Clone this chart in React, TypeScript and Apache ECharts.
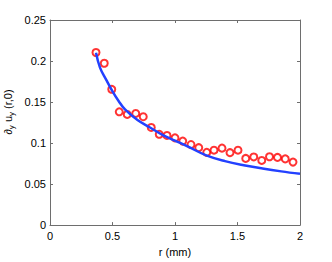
import React, { useEffect, useRef } from "react";
import * as echarts from "echarts";

// Measured points (red circles)
const measuredR = [
  0.368, 0.434, 0.494, 0.554, 0.618, 0.686, 0.746, 0.81, 0.874, 0.936, 1.0, 1.062, 1.128,
  1.19, 1.254, 1.312, 1.376, 1.44, 1.504, 1.566, 1.63, 1.694, 1.756, 1.82, 1.882, 1.944,
];
const measuredValues = [
  0.2104, 0.1973, 0.1655, 0.1381, 0.1349, 0.1361, 0.1321, 0.119, 0.1107, 0.1093, 0.1063,
  0.1024, 0.0982, 0.0944, 0.0887, 0.0913, 0.0938, 0.0883, 0.0913, 0.0813, 0.0831, 0.0788,
  0.0833, 0.0825, 0.0807, 0.0768,
];

// Model curve (blue line)
const curveR = [
  0.368, 0.4, 0.45, 0.5, 0.55, 0.6, 0.7, 0.8, 0.9, 1.0, 1.1, 1.25, 1.4, 1.55, 1.7, 1.85, 2.0,
];
const curveValues = [
  0.21, 0.192, 0.177, 0.163, 0.151, 0.141, 0.128, 0.119, 0.11, 0.103, 0.096, 0.085, 0.078,
  0.073, 0.069, 0.0655, 0.0625,
];

const xTicks = { min: 0, max: 2, interval: 0.5 };
const yTicks = { min: 0, max: 0.25, interval: 0.05 };

const xLabel = "r (mm)";
// y label pieces: [text, isSubscript]
const yLabelParts: [string, boolean][] = [
  ["∂", false],
  ["y", true],
  [" u", false],
  ["y", true],
  [" (r,0)", false],
];

export default function App() {
  const ref = useRef<HTMLDivElement>(null);
  useEffect(() => {
    if (!ref.current) return;
    const chart = echarts.init(ref.current, undefined, { renderer: "svg" });
    const font = "'Liberation Sans', Arial, Helvetica, sans-serif";
    const axisColor = "#6e6e6e";
    const baseAxis = {
      axisLine: { show: true, onZero: false, lineStyle: { color: axisColor, width: 1 } },
      axisTick: { show: true, inside: true, length: 3, lineStyle: { color: axisColor } },
      splitLine: { show: false },
    };

    // build rotated y label from parts
    const mainSize = 11;
    const subSize = 8;
    let offset = 0;
    const children: any[] = [];
    yLabelParts.forEach(([t, sub]) => {
      const size = sub ? subSize : mainSize;
      const w = echarts.format.getTextRect
        ? (echarts.format as any).getTextRect(t, `${size}px ${font}`).width
        : t.length * size * 0.55;
      children.push({
        type: "text",
        x: offset,
        y: sub ? 3.5 : 0,
        style: {
          text: t,
          fontSize: size,
          fontFamily: font,
          fill: "#000",
          align: "left",
          verticalAlign: "middle",
        },
      });
      offset += w;
    });
    const total = offset;

    chart.setOption({
      animation: false,
      backgroundColor: "#ffffff",
      grid: { left: 50, right: 32, top: 20, bottom: 32, show: false },
      xAxis: [
        {
          type: "value",
          position: "bottom",
          ...xTicks,
          ...baseAxis,
          axisLabel: { color: "#000", fontSize: 11, fontFamily: font, margin: 5 },
          name: xLabel,
          nameLocation: "middle",
          nameGap: 20,
          nameTextStyle: { color: "#000", fontSize: 11, fontFamily: font },
        },
        {
          type: "value",
          position: "top",
          ...xTicks,
          ...baseAxis,
          axisLabel: { show: false },
        },
      ],
      yAxis: [
        {
          type: "value",
          position: "left",
          ...yTicks,
          ...baseAxis,
          axisLabel: { color: "#000", fontSize: 11, fontFamily: font, margin: 4 },
        },
        {
          type: "value",
          position: "right",
          ...yTicks,
          ...baseAxis,
          axisLabel: { show: false },
        },
      ],
      graphic: [
        {
          type: "group",
          x: 8,
          y: 112 + total / 2,
          rotation: Math.PI / 2,
          children,
        },
      ],
      series: [
        {
          type: "scatter",
          data: measuredR.map((r, i) => [r, measuredValues[i]]),
          symbol: "circle",
          symbolSize: 7,
          itemStyle: { color: "rgba(255,255,255,0)", borderColor: "#ff0000", borderWidth: 2 },
          z: 2,
        },
        {
          type: "line",
          data: curveR.map((r, i) => [r, curveValues[i]]),
          smooth: 0.4,
          showSymbol: false,
          lineStyle: { color: "#2341ff", width: 2.5 },
          z: 3,
        },
      ],
    });
    return () => chart.dispose();
  }, []);
  return (
    <div
      ref={ref}
      style={{ position: "fixed", left: 0, top: 0, width: 332, height: 262, background: "#fff" }}
    />
  );
}
